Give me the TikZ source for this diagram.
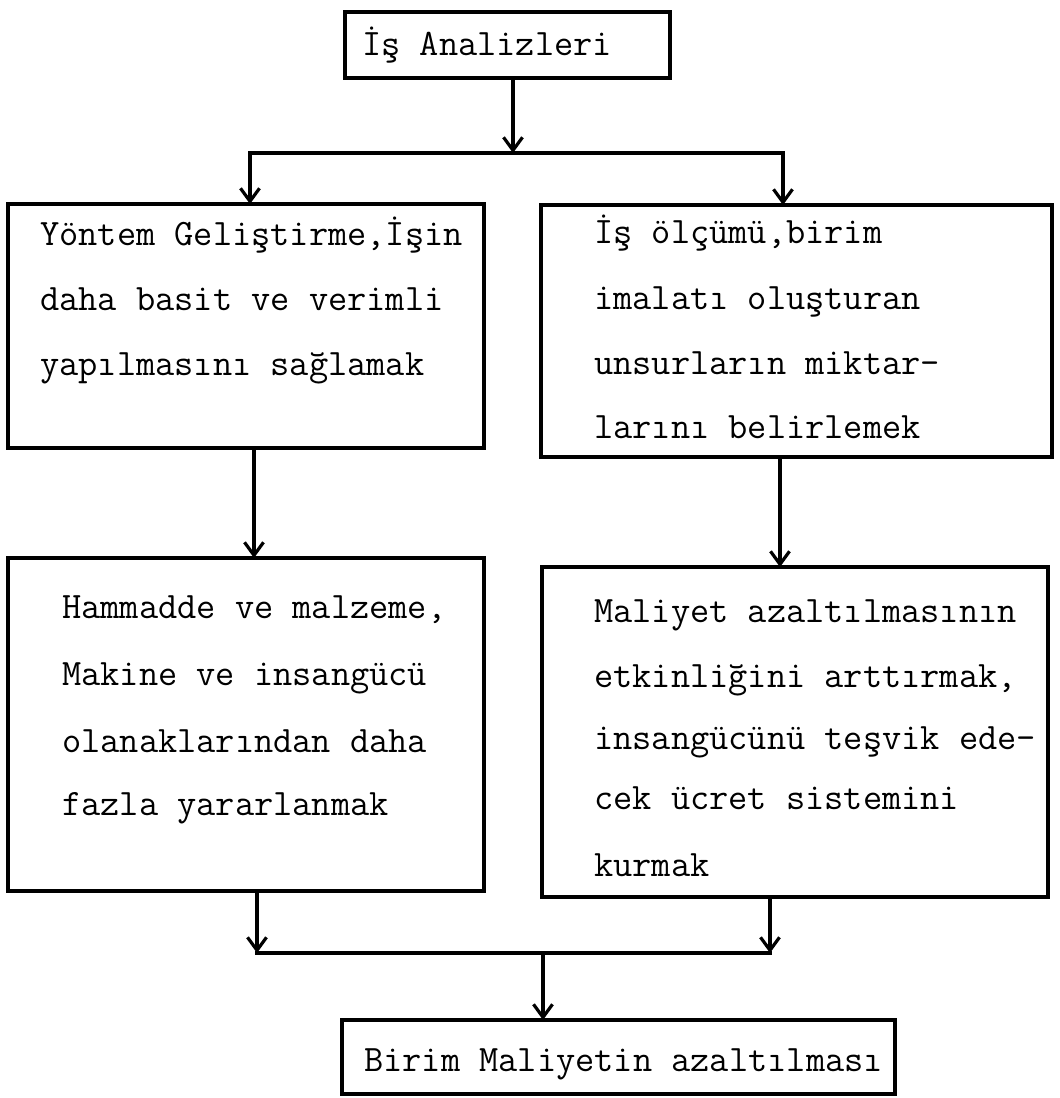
\documentclass[tikz,border=0pt]{standalone}
\usepackage{fontspec}
\usetikzlibrary{arrows.meta}
\begin{document}
\begin{tikzpicture}[x=1pt,y=-1pt,
  box/.style={draw, line width=3.4pt, anchor=north west, inner sep=0pt, outer sep=0pt},
  txt/.style={anchor=base west, inner sep=0pt, font=\fontsize{37.3}{65}\selectfont\ttfamily},
  conn/.style={line width=3.2pt, line cap=rect},
  arr/.style={line width=3.2pt, -{Straight Barb[length=13pt,width=19pt]}}]
\useasboundingbox[fill=white] (0,0) rectangle (1060,1098);

% boxes
\node[box, minimum width=325pt, minimum height=66pt]  (top) at (345,12)  {};
\node[box, minimum width=476pt, minimum height=244pt] (b1)  at (8,204)   {};
\node[box, minimum width=511pt, minimum height=252pt] (b2)  at (541,205) {};
\node[box, minimum width=476pt, minimum height=333pt] (b3)  at (8,558)   {};
\node[box, minimum width=506pt, minimum height=330pt] (b4)  at (542,567) {};
\node[box, minimum width=553pt, minimum height=74pt]  (b5)  at (342,1020) {};

% texts
\node[txt] (t0) at (362,55) {İş Analizleri};

\node[txt] (t11) at (40,245) {Yöntem Geliştirme,İşin};
\node[txt] (t12) at (40,310) {daha basit ve verimli};
\node[txt] (t13) at (40,375) {yapılmasını sağlamak};

\node[txt] (t21) at (594,243) {İş ölçümü,birim};
\node[txt] (t22) at (594,309) {imalatı oluşturan};
\node[txt] (t23) at (594,374) {unsurların miktar-};
\node[txt] (t24) at (594,438) {larını belirlemek};

\node[txt] (t31) at (62,618) {Hammadde ve malzeme,};
\node[txt] (t32) at (62,685) {Makine ve insangücü};
\node[txt] (t33) at (62,752) {olanaklarından daha};
\node[txt] (t34) at (62,815) {fazla yararlanmak};

\node[txt] (t41) at (594,622) {Maliyet azaltılmasının};
\node[txt] (t42) at (594,687) {etkinliğini arttırmak,};
\node[txt] (t43) at (594,749) {insangücünü teşvik ede-};
\node[txt] (t44) at (594,809) {cek ücret sistemini};
\node[txt] (t45) at (594,876) {kurmak};

\node[txt] (t5) at (364,1071) {Birim Maliyetin azaltılması};

% connector points
\coordinate (j1) at (513,153);
\coordinate (jl) at (250,153);
\coordinate (jr) at (783,153);
\coordinate (a1) at (254,0);
\coordinate (a2) at (780,0);
\coordinate (jl2) at (257,953);
\coordinate (jr2) at (770,953);
\coordinate (jm) at (543,953);

% connectors
\draw[arr] (top.south -| j1) -- (j1);
\draw[arr] (jr) -- (jl) -- (jl |- b1.north);
\draw[arr] (jl) -- (jr) -- (jr |- b2.north);
\draw[arr] (b1.south -| a1) -- (b3.north -| a1);
\draw[arr] (b2.south -| a2) -- (b4.north -| a2);
\draw[arr] (b3.south -| jl2) -- (jl2);
\draw[arr] (b4.south -| jr2) -- (jr2);
\draw[conn] (jl2) -- (jr2);
\draw[arr] (jm) -- (jm |- b5.north);
\end{tikzpicture}
\end{document}
